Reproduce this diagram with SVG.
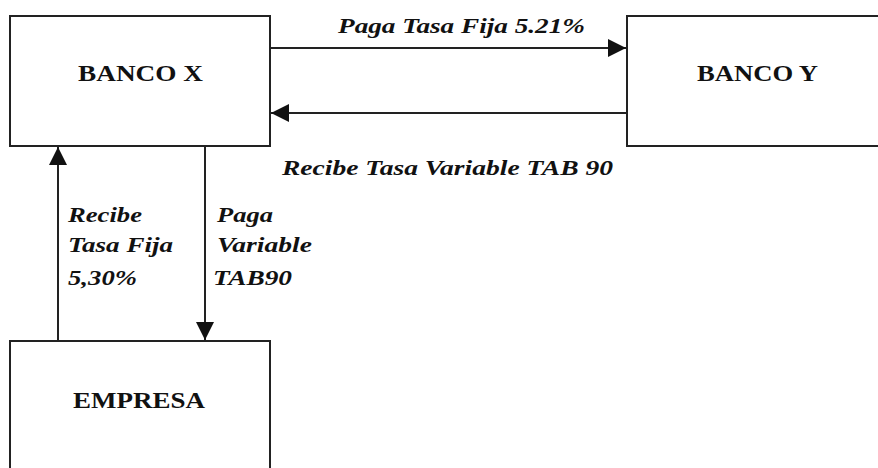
<svg xmlns="http://www.w3.org/2000/svg" width="878" height="468" viewBox="0 0 878 468">
<style>
.box{fill:#fff;stroke:#222;stroke-width:2}
.conn{stroke:#222;stroke-width:2;fill:none}
.node{font-family:"Liberation Serif","Times New Roman",serif;font-weight:bold;font-size:23px;fill:#111}
.lbl{font-family:"Liberation Serif","Times New Roman",serif;font-weight:bold;font-style:italic;font-size:22px;fill:#111}
</style>
<defs>
<marker id="ah" markerWidth="9" markerHeight="9" refX="9" refY="4.5" orient="auto" markerUnits="strokeWidth" viewBox="0 0 9 9">
<path d="M0,0 L9,4.5 L0,9 Z" fill="#111"/>
</marker>
</defs>
<rect width="878" height="468" fill="#fff"/>
<g id="banco-x">
<rect class="box" x="10" y="16" width="260" height="130"/>
<text class="node" x="78" y="81" textLength="125" lengthAdjust="spacingAndGlyphs">BANCO X</text>
</g>
<g id="banco-y">
<rect class="box" x="627" y="16" width="260" height="130"/>
<text class="node" x="697" y="81" textLength="121" lengthAdjust="spacingAndGlyphs">BANCO Y</text>
</g>
<g id="empresa">
<rect class="box" x="10" y="341" width="260" height="140"/>
<text class="node" x="73" y="408" textLength="132" lengthAdjust="spacingAndGlyphs">EMPRESA</text>
</g>
<g id="connectors">
<line class="conn" x1="270" y1="48" x2="626" y2="48" marker-end="url(#ah)"/>
<line class="conn" x1="627" y1="113" x2="271" y2="113" marker-end="url(#ah)"/>
<line class="conn" x1="58" y1="341" x2="58" y2="147" marker-end="url(#ah)"/>
<line class="conn" x1="205" y1="146" x2="205" y2="340" marker-end="url(#ah)"/>
<text class="lbl" x="338" y="33" textLength="247" lengthAdjust="spacingAndGlyphs">Paga Tasa Fija 5.21%</text>
<text class="lbl" x="282" y="175" textLength="331" lengthAdjust="spacingAndGlyphs">Recibe Tasa Variable TAB 90</text>
<text class="lbl" x="68" y="222" textLength="74" lengthAdjust="spacingAndGlyphs">Recibe</text>
<text class="lbl" x="68" y="252" textLength="105" lengthAdjust="spacingAndGlyphs">Tasa Fija</text>
<text class="lbl" x="68" y="285" textLength="69" lengthAdjust="spacingAndGlyphs">5,30%</text>
<text class="lbl" x="217" y="222" textLength="56" lengthAdjust="spacingAndGlyphs">Paga</text>
<text class="lbl" x="217" y="252" textLength="95" lengthAdjust="spacingAndGlyphs">Variable</text>
<text class="lbl" x="213" y="285" textLength="79" lengthAdjust="spacingAndGlyphs">TAB90</text>
</g>
</svg>
